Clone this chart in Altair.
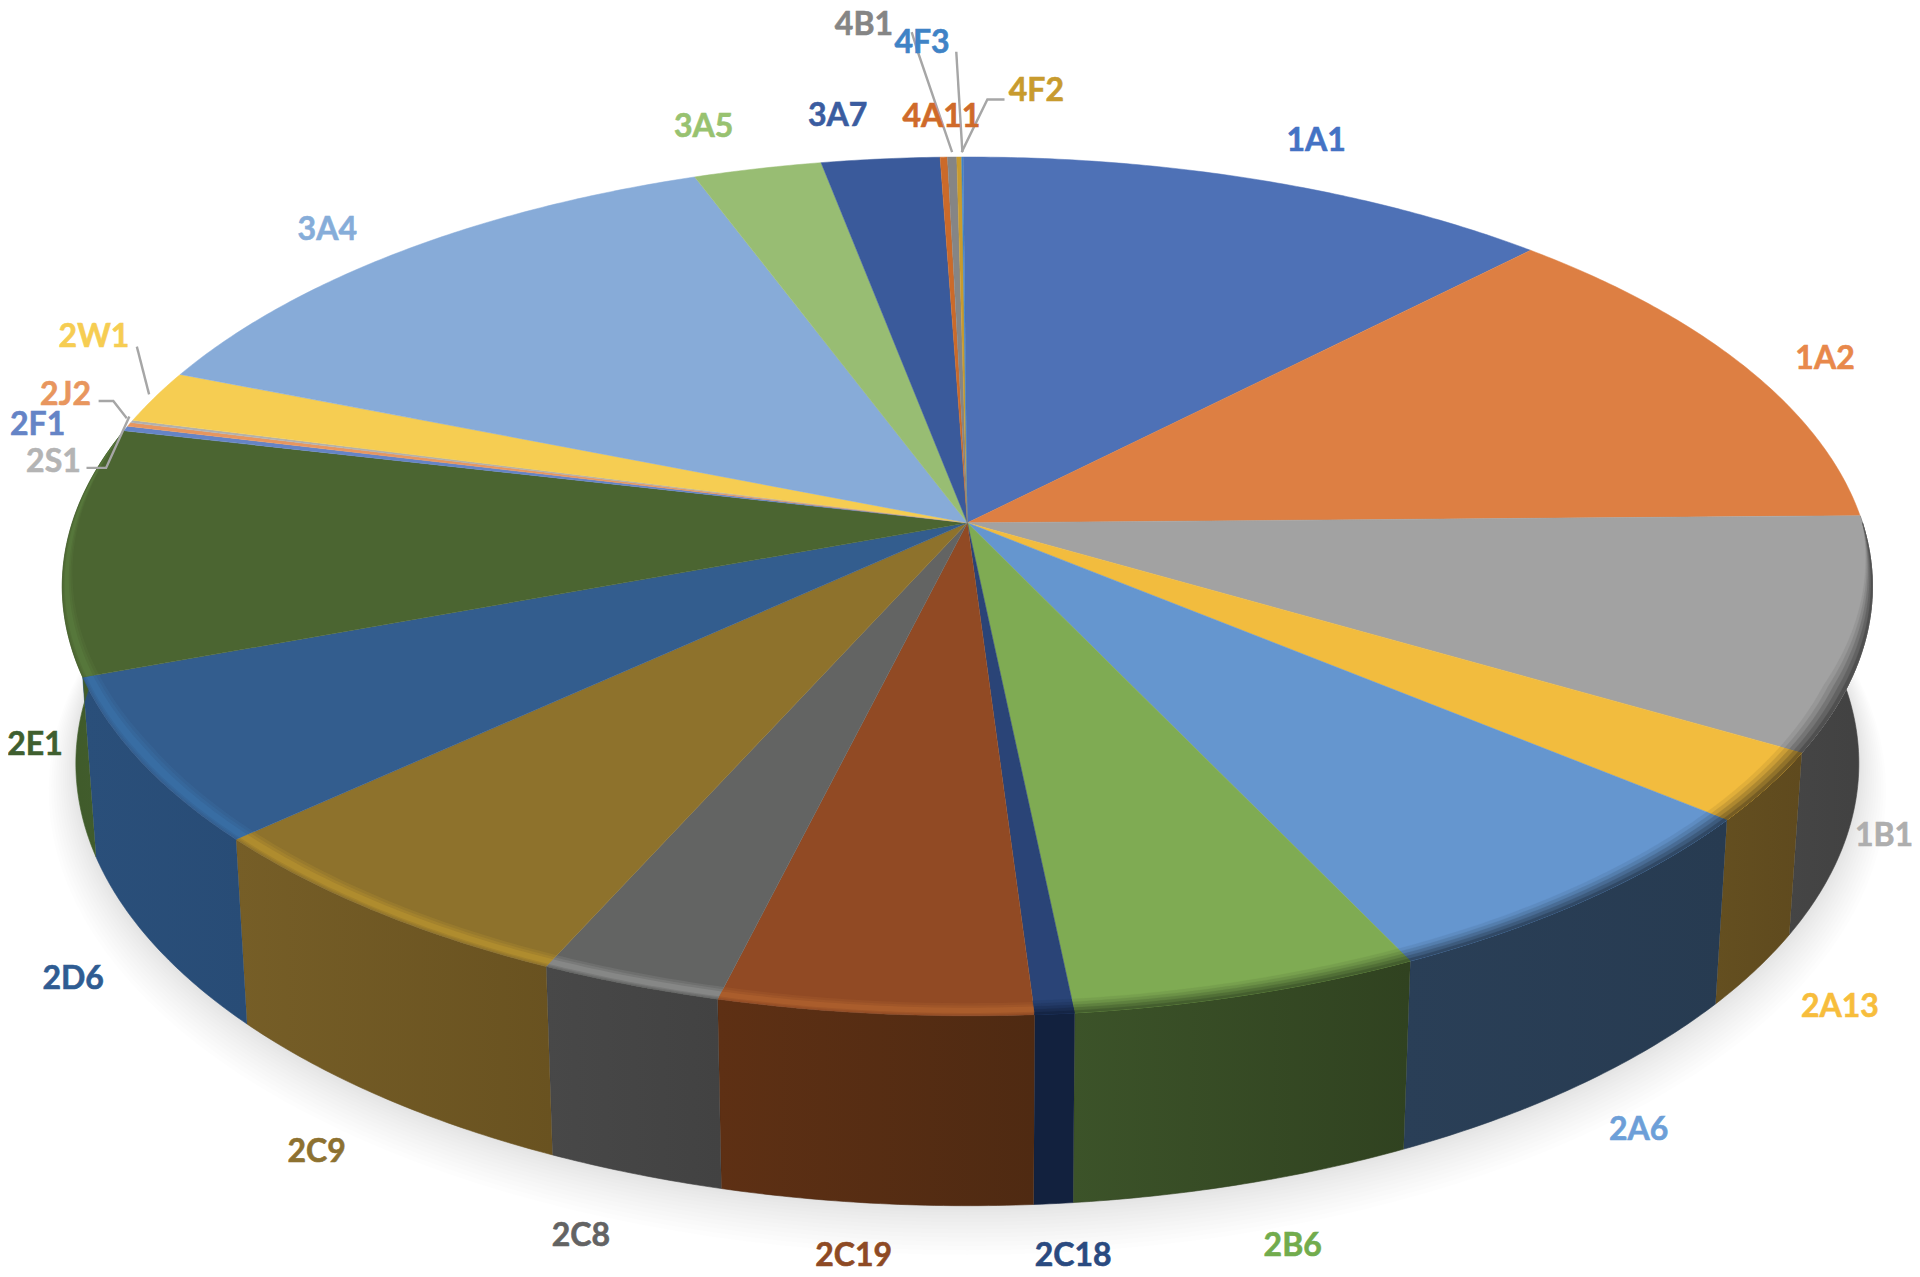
import math
import altair as alt
import pandas as pd

# ---- chart values (share of the whole, %) ----
NAMES = ["1A1","1A2","1B1","2A13","2A6","2B6","2C18","2C19","2C8","2C9","2D6","2E1",
         "2F1","2J2","2S1","2W1","3A4","3A5","3A7","4A11","4B1","4F2","4F3"]
SHARES = [12.34,12.47,8.72,2.61,6.89,5.42,0.61,4.86,2.83,6.47,6.19,9.31,
          0.19,0.15,0.10,2.00,13.28,2.64,2.44,0.15,0.19,0.10,0.03]
TOP_COLORS = ["#4e71b6","#dd7f43","#a2a2a2","#f2bc3e","#6596cf","#7fab53","#2a4477","#914a24",
              "#636463","#8e722c","#335d8e","#4b6531","#6584c6","#e8965e","#b0b0b0","#f6cd52",
              "#87abd8","#98bd73","#3a5a9b","#cb6a2a","#858585","#c89b2e","#3f83c6"]
LABEL_COLORS = ["#4472c4","#e8884b","#aeaeae","#f7bd3c","#6d9fd8","#72ac4d","#2a4a80","#8e4a24",
                "#636363","#8d7130","#2f5c92","#3f5f2f","#6584c6","#e8965e","#b4b4b4","#f6cd52",
                "#86add9","#98c270","#3a5ca0","#cf6a2a","#858585","#c89b2e","#3f83c6"]

# ---- styling of the visible side walls: (left colour, right colour) ----
WALLS = {"1B1":("#454545","#414141"),"2A13":("#644f20","#5f4a1e"),"2A6":("#2a3f57","#273b51"),
         "2B6":("#3c5329","#304220"),"2C18":("#12213e","#12213e"),"2C19":("#5e3014","#4f2a12"),
         "2C8":("#484848","#424242"),"2C9":("#765e27","#695220"),"2D6":("#2a4f7a","#284c76"),
         "2E1":("#3f5a2a","#435f2e")}
HILITES = {"2C19":"#b0622f","2C8":"#8f8f8f","2C9":"#b8922f","2D6":"#3a72a8","2E1":"#5a7c3e"}

# ---- label placement: offset from the rim point at the slice's middle ----
LABEL_OFFSET = {"1A1":(45,-32),"1A2":(67,-5),"1B1":(14,165),"2A13":(59,180),"2A6":(41,189),
                "2B6":(36,205),"2C18":(15,198),"2C19":(-17,198),"2C8":(-40,205),"2C9":(-47,197),
                "2D6":(-55,178),"2E1":(-25,159),"2F1":(-72,-3),"2J2":(-52,-24),"2S1":(-64,33),
                "2W1":(-50,-49),"3A4":(-62,-17),"3A5":(-44,-34),"3A7":(-35,-35),"4A11":(-2,-33),
                "4B1":(-72,-108),"4F2":(63,-54),"4F3":(-33,-93)}
LEADERS = {"2W1":[(-5,-2),(-15,-41)],"2J2":[(-2,-5),(-13,-19),(-25,-19)],
           "2S1":[(-2,-4),(-21,38),(-37,38)],"4B1":[(0,-4),(-28,-86),(-33,-102)],
           "4F3":[(0,-4),(-5,-86)],"4F2":[(2,-4),(23,-47),(37,-47)]}

# ---- perspective of the disc ----
F = 1920/1568
CX, CY, RX, RY, P = 790, 427, 731, 343, 0.148
START = -0.31
BX, BY0, BYF = 0.985, 570, 1.03


def proj(theta, r=1.0):
    t = math.radians(theta)
    X, Y = r*math.sin(t), r*math.cos(t)
    w = 1 + P*Y
    return RX*X/w, RY*Y/w


def top(theta, r=1.0):
    a, b = proj(theta, r)
    return CX + a, CY - b


def bottom(theta, sx=BX, sy=BYF, y0=BY0):
    a, b = proj(theta)
    return CX + a*sx, y0 - b*sy


total = sum(SHARES)
edges = [START]
for s in SHARES:
    edges.append(edges[-1] + s/total*360)


def arc(a0, a1):
    n = max(2, int(abs(a1-a0)*2) + 2)
    return [a0 + (a1-a0)*i/(n-1) for i in range(n)]


def blend(c1, c2, t):
    p = [int(c1[i:i+2], 16) for i in (1, 3, 5)]
    q = [int(c2[i:i+2], 16) for i in (1, 3, 5)]
    return "#%02x%02x%02x" % tuple(round(u + (v-u)*t) for u, v in zip(p, q))


def ramp(theta):
    """Bevel strength round the rim: zero at the back, full along the front."""
    up = min(1.0, max(0.0, (theta-90)/22))
    down = min(1.0, max(0.0, (285-theta)/45))
    return min(up, down)


X = alt.X("x:Q", axis=None, scale=alt.Scale(domain=[8/F, 1912/F], nice=False, zero=False))
Y = alt.Y("y:Q", axis=None, scale=alt.Scale(domain=[1269/F, 8/F], nice=False, zero=False))
ENC = dict(x=X, y=Y, order=alt.Order("i:Q"), detail="g:N")
COLS = ["g", "i", "x", "y", "c"]


def polygons(rows, **mark):
    df = pd.DataFrame(rows, columns=COLS)
    return alt.Chart(df).mark_line(interpolate="linear", **mark).encode(
        fill=alt.Fill("c:N", scale=None), stroke=alt.Stroke("c:N", scale=None), **ENC)


def strokes(rows, **mark):
    df = pd.DataFrame(rows, columns=COLS)
    return alt.Chart(df).mark_line(interpolate="linear", **mark).encode(
        stroke=alt.Stroke("c:N", scale=None), **ENC)


def band_rows(r_hi, r_lo, color_of, names):
    """Closed strips along the rim, between two radii that taper with ramp()."""
    rows = []
    for idx, name in enumerate(NAMES):
        if name not in names:
            continue
        a0, a1 = max(edges[idx], 90), min(edges[idx+1], 285)
        if a1 <= a0:
            continue
        angs = arc(a0, a1)
        pts = [top(t, 1-(1-r_hi)*ramp(t)) for t in angs]
        pts += [top(t, 1-(1-r_lo)*ramp(t)) for t in reversed(angs)]
        for i, (x, y) in enumerate(pts):
            rows.append((name, i, x, y, color_of(idx, name)))
    return rows


layers = []

# soft ground shadow: nested translucent rings around the base
rows = []
N_RINGS = 14
for k in range(N_RINGS):
    q = ((k+1)/N_RINGS)**1.3
    for i, th in enumerate(range(0, 361, 2)):
        x, y = bottom(th, BX + 0.03*q, BYF + 0.05*q, BY0 + 20*q)
        rows.append((f"r{k}", i, x, y, "#7f8a8a"))
layers.append(polygons(rows, fillOpacity=0.014, strokeOpacity=0))

# side walls
for idx, name in enumerate(NAMES):
    if name not in WALLS:
        continue
    a0, a1 = edges[idx], edges[idx+1]
    rows = []
    angs = arc(a0, a1)
    pts = [top(t) for t in angs] + [bottom(t) for t in reversed(angs)]
    for i, (x, y) in enumerate(pts):
        rows.append((name, i, x, y, WALLS[name][0]))
    df = pd.DataFrame(rows, columns=COLS)
    grad = alt.LinearGradient(gradient="linear", x1=0, x2=1, y1=0, y2=0,
                              stops=[alt.GradientStop(color=WALLS[name][0], offset=0),
                                     alt.GradientStop(color=WALLS[name][1], offset=1)])
    layers.append(alt.Chart(df).mark_line(fill=grad, stroke=WALLS[name][1], strokeWidth=0.6)
                  .encode(**ENC))

# top faces
rows = []
for idx, name in enumerate(NAMES):
    angs = arc(edges[idx], edges[idx+1])
    pts = [top(0, 0)] + [top(t) for t in angs]
    for i, (x, y) in enumerate(pts):
        rows.append((name, i, x, y, TOP_COLORS[idx]))
layers.append(polygons(rows, strokeWidth=0.5))

# bevel along the front rim: dark on the right-hand slices, a bright streak on the left
DARK = [n for n in WALLS if n not in HILITES]
for d, t in [(0.024, 0.12), (0.019, 0.28), (0.014, 0.48), (0.009, 0.68), (0.004, 0.88)]:
    layers.append(polygons(
        band_rows(1.0, 1-d, lambda idx, n, t=t: blend(TOP_COLORS[idx], WALLS[n][0], t), DARK),
        strokeWidth=0.3))
for r1, r2, op in [(0.999, 0.978, 0.25), (0.997, 0.982, 0.35), (0.995, 0.986, 0.6)]:
    layers.append(polygons(
        band_rows(r1, r2, lambda idx, n: HILITES[n], list(HILITES)),
        fillOpacity=op, strokeOpacity=0))

# leader lines and labels
rows, lab = [], []
for idx, name in enumerate(NAMES):
    mid = (edges[idx] + edges[idx+1]) / 2
    rx, ry = top(mid)
    dx, dy = LABEL_OFFSET[name]
    lab.append(dict(x=rx+dx, y=ry+dy, t=name, c=LABEL_COLORS[idx]))
    for i, (ox, oy) in enumerate(LEADERS.get(name, [])):
        rows.append((name, i, rx+ox, ry+oy, "#a6a6a6"))
layers.append(strokes(rows, strokeWidth=2.4))
layers.append(alt.Chart(pd.DataFrame(lab)).mark_text(
    font="Lato", fontWeight="bold", fontSize=32, align="center", baseline="middle", strokeWidth=0.6
).encode(x=X, y=Y, text="t:N", color=alt.Color("c:N", scale=None),
         stroke=alt.Stroke("c:N", scale=None)))

chart = alt.layer(*layers).properties(
    width=1904, height=1261, padding=0,
    autosize=alt.AutoSizeParams(type="none"),
    background="white",
).configure_view(stroke=None)

chart.save("out.html", embed_options={"renderer": "svg", "actions": False})
